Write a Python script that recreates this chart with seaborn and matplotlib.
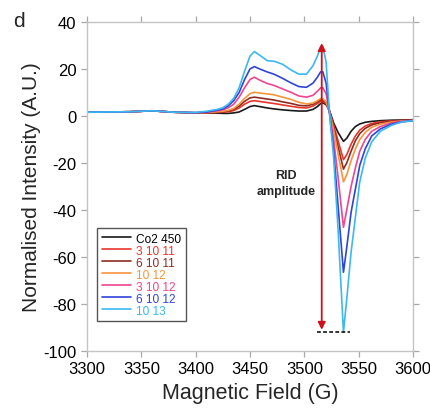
import numpy as np
import pandas as pd
import matplotlib
matplotlib.use("Agg")
import matplotlib.pyplot as plt
import seaborn as sns

field = [3300, 3320, 3340, 3360, 3380, 3400, 3410, 3420, 3425, 3430, 3435, 3440,
         3445, 3450, 3454, 3460, 3466, 3472, 3480, 3488, 3495, 3502, 3508, 3512,
         3515, 3517, 3520, 3523, 3527, 3531, 3536, 3539, 3543, 3547, 3551, 3556, 3562,
         3570, 3580, 3590, 3600]

co2_450 = [1.6, 1.7, 1.8, 2.2, 1.6, 1.3, 1.3, 1.2, 1.1, 1.1, 1.3, 1.7,
           2.8, 4.0, 4.4, 3.9, 3.4, 3.0, 2.6, 2.3, 2.1, 2.1, 2.8, 4.0,
           5.3, 5.6, 4.8, 2.5, -3.0, -7.0, -10.8, -9.5, -6.5, -4.5, -3.4, -2.7, -2.3,
           -2.0, -1.8, -1.7, -1.6]
s_3_10_11 = [1.6, 1.7, 1.8, 2.2, 1.6, 1.3, 1.4, 1.5, 1.6, 1.8, 2.3, 3.4,
             5.0, 6.2, 6.5, 6.1, 5.7, 5.3, 4.7, 4.1, 3.6, 3.4, 4.2, 5.3,
             6.3, 6.4, 5.2, 2.0, -4.0, -10.5, -18.6, -16.5, -12.0, -8.5, -6.0, -4.3, -3.2,
             -2.5, -2.1, -1.9, -1.8]
s_6_10_11 = [1.6, 1.7, 1.8, 2.2, 1.6, 1.3, 1.4, 1.6, 1.8, 2.1, 2.8, 4.2,
             6.2, 7.7, 8.0, 7.6, 7.2, 6.8, 6.0, 5.3, 4.5, 4.3, 5.0, 6.0,
             6.9, 6.9, 5.8, 2.0, -5.0, -13.0, -22.6, -20.0, -15.0, -10.5, -7.5, -5.3, -3.8,
             -2.9, -2.3, -2.0, -1.9]
s_10_12 = [1.6, 1.7, 1.8, 2.2, 1.6, 1.4, 1.5, 1.8, 2.0, 2.4, 3.2, 5.0,
           7.5, 9.5, 10.1, 9.7, 9.4, 9.0, 8.0, 7.0, 5.8, 5.1, 5.5, 6.5,
           7.4, 7.4, 6.0, 2.0, -6.0, -16.0, -28.0, -25.0, -19.0, -14.0, -10.0, -7.0, -4.8,
           -3.5, -2.6, -2.1, -2.0]
s_3_10_12 = [1.6, 1.7, 1.8, 2.2, 1.6, 1.4, 1.6, 2.2, 2.6, 3.5, 5.0, 8.0,
             12.0, 15.5, 16.5, 15.0, 13.8, 13.0, 11.5, 10.0, 8.5, 8.0, 8.8, 10.5,
             12.0, 12.0, 9.5, 2.0, -10.0, -26.0, -47.4, -40.0, -30.0, -22.0, -15.0, -10.0, -6.5,
             -4.5, -3.0, -2.2, -2.0]
s_6_10_12 = [1.6, 1.7, 1.8, 2.2, 1.6, 1.4, 1.7, 2.5, 3.0, 4.3, 6.5, 10.0,
             15.5, 20.0, 21.0, 19.8, 18.7, 17.8, 16.0, 14.0, 12.5, 12.2, 14.0, 16.5,
             18.8, 18.8, 14.0, 2.0, -15.0, -38.0, -66.5, -56.0, -41.0, -31.0, -21.0, -14.0, -8.5,
             -5.5, -3.5, -2.5, -2.0]
s_10_13 = [1.6, 1.7, 1.8, 2.2, 1.6, 1.5, 2.0, 2.8, 3.5, 5.0, 7.5, 12.0,
           19.0, 25.5, 27.4, 25.5, 23.5, 23.3, 22.0, 19.5, 17.8, 17.8, 21.4, 25.5,
           29.5, 29.5, 23.0, 2.0, -18.0, -48.0, -92.0, -78.0, -58.0, -43.0, -28.0, -18.0, -11.0,
           -6.5, -4.0, -2.5, -2.0]

labels = ["Co2 450", "3 10 11", "6 10 11", "10 12", "3 10 12", "6 10 12", "10 13"]
series = [co2_450, s_3_10_11, s_6_10_11, s_10_12, s_3_10_12, s_6_10_12, s_10_13]
colors = ["#1a1a1a", "#e8352b", "#8c2c22", "#f7953b", "#f0458f", "#2f44d8", "#3cb8f0"]

xticks = [3300, 3350, 3400, 3450, 3500, 3550, 3600]
yticks = [-100, -80, -60, -40, -20, 0, 20, 40]

rid_x = 3516
rid_top = 31
rid_bottom = -91

df = pd.concat([pd.DataFrame({"field": field, "intensity": s, "sample": lab})
                for s, lab in zip(series, labels)], ignore_index=True)

sns.set_style("white")
plt.rcParams["font.family"] = ["Liberation Sans", "DejaVu Sans"]
plt.rcParams["axes.unicode_minus"] = False
for a in ("xtick", "ytick"):
    plt.rcParams[f"{a}.major.size"] = 4.5
    plt.rcParams[f"{a}.major.width"] = 0.9
    plt.rcParams[f"{a}.color"] = "#a8a8a8"
    plt.rcParams[f"{a}.labelcolor"] = "black"
plt.rcParams["xtick.bottom"] = True
plt.rcParams["xtick.top"] = True
plt.rcParams["ytick.left"] = True
plt.rcParams["ytick.right"] = True

fig = plt.figure(figsize=(4.3, 4.1), dpi=100)
ax = fig.add_axes([0.2023, 0.1415, 0.7582, 0.8025])

sns.lineplot(data=df, x="field", y="intensity", hue="sample", hue_order=labels,
             palette=dict(zip(labels, colors)), sort=False, linewidth=1.2,
             estimator=None, ax=ax)

ax.set_xlim(3300, 3600)
ax.set_ylim(-100, 40)
ax.set_xticks(xticks)
ax.set_yticks(yticks)
ax.tick_params(axis="both", which="major", labelsize=12, direction="out",
               bottom=True, left=True, top=True, right=True,
               labeltop=False, labelright=False, pad=3,
               length=4.5, width=0.9, color="#a8a8a8", labelcolor="black")
for sp in ax.spines.values():
    sp.set_color("#c4c4c4")
    sp.set_linewidth(1.0)
ax.set_xlabel("Magnetic Field (G)", fontsize=15.5, labelpad=4)
ax.set_ylabel("Normalised Intensity (A.U.)", fontsize=15, labelpad=2)

# RID amplitude arrow
ax.annotate("", xy=(rid_x, rid_top), xytext=(rid_x, rid_bottom),
            arrowprops=dict(arrowstyle="<|-|>", color="#d0101a", lw=1.3,
                            mutation_scale=11, shrinkA=0, shrinkB=0))
ax.plot([3511.5, 3542], [-92, -92], color="black", lw=1.1, ls=(0, (2.5, 1.5)))
ax.text(3483, -28.5, "RID\namplitude", ha="center", va="center", fontsize=9,
        fontweight="bold", linespacing=1.35)

leg = ax.legend(loc="lower left", bbox_to_anchor=(0.03, 0.09), fontsize=8.6,
                labelcolor="linecolor", frameon=True, fancybox=False,
                edgecolor="#555555", framealpha=1, handlelength=2.5,
                handletextpad=0.4, labelspacing=0.0, borderpad=0.4,
                borderaxespad=0)
leg.get_frame().set_linewidth(1.0)
leg.get_texts()[0].set_color("black")

fig.text(0.044, 0.947, "d", fontsize=15, ha="center", va="center")

fig.savefig("out.png", dpi=100)
